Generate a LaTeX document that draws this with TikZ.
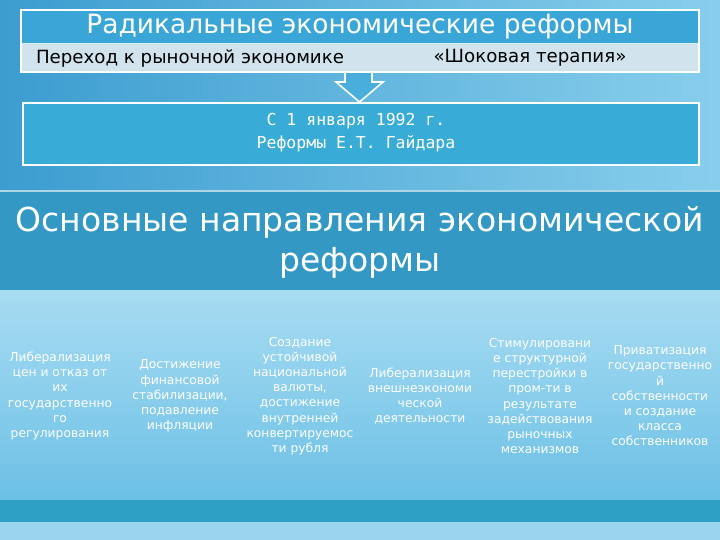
\documentclass[tikz,border=0pt]{standalone}
\usepackage{fontspec}
\setmainfont{DejaVu Sans}
\newfontfamily\monofnt{DejaVu Sans Mono}
\usetikzlibrary{calc}
\definecolor{bgL}{HTML}{3C9DD0}
\definecolor{bgR}{HTML}{88CEEC}
\definecolor{bandc}{HTML}{3399C4}
\definecolor{lowTop}{HTML}{A8DCF2}
\definecolor{lowBot}{HTML}{6CC0E6}
\definecolor{bandtwo}{HTML}{2E9FC5}
\definecolor{stripc}{HTML}{9AD4EF}
\definecolor{titlefill}{HTML}{3AA6D7}
\definecolor{rowfill}{HTML}{D1E3EC}
\definecolor{boxfill}{HTML}{38ACD6}
\definecolor{arrowfill}{HTML}{4AAEDC}
\tikzset{
  frame/.style={draw=white, line width=2bp},
  coltext/.style={text=white, align=center, inner sep=0pt,
    font=\fontsize{12.3bp}{15.2bp}\selectfont},
}
\begin{document}
\begin{tikzpicture}[x=1bp,y=-1bp]
\useasboundingbox (0,0) rectangle (720,540);
% backgrounds
\shade[left color=bgL, right color=bgR] (0,0) rectangle (720,191);
\fill[bandc] (0,191) rectangle (720,290);
\draw[white!60!bandc, line width=1.2bp] (0,191) -- (720,191);
\shade[top color=lowTop, bottom color=lowBot] (0,290) rectangle (720,500);
\fill[bandtwo] (0,500) rectangle (720,522);
\fill[stripc] (0,522) rectangle (720,540);

% top box
\node[fill=titlefill, minimum width=678bp, minimum height=33bp, inner sep=0pt, anchor=north west] (title) at (21,10) {};
\node[fill=rowfill, minimum width=678bp, minimum height=29bp, inner sep=0pt, anchor=north west] (row) at (21,43) {};
\draw[frame] (title.north west) rectangle (row.south east);
\draw[white!80!titlefill, line width=1bp] (title.south west) -- (title.south east);
\node[text=white, font=\fontsize{26.5bp}{30bp}\selectfont] (titletext) at (360,27) {Радикальные экономические реформы};
\node[text=black, font=\fontsize{18.2bp}{21bp}\selectfont] (rowa) at (190,58) {Переход к рыночной экономике};
\node[text=black, font=\fontsize{18.2bp}{21bp}\selectfont] (rowb) at (530,58) {«Шоковая терапия»};

% second box
\node[fill=boxfill, frame, minimum width=676bp, minimum height=62bp, inner sep=0pt, anchor=north west] (gaidar) at (22,102) {};
\node[text=white, align=center, font=\monofnt\fontsize{16.5bp}{23bp}\selectfont] (gaidartext) at (356,133) {С 1 января 1992 г.\\Реформы Е.Т. Гайдара};

% block arrow from top box to second box
\coordinate (arrtop) at (358.5,72);
\draw[fill=arrowfill, draw=white, line width=1.6bp, line join=miter]
  ($(arrtop)+(-13.5,0)$) -- ($(arrtop)+(13.5,0)$) -- ($(arrtop)+(13.5,10)$) -- ($(arrtop)+(24.5,10)$)
  -- ($(gaidar.north)+(-1.5,0)$) -- ($(arrtop)+(-22.5,10)$) -- ($(arrtop)+(-13.5,10)$) -- cycle;

% heading
\node[text=white, align=center, font=\fontsize{33bp}{40bp}\selectfont] (heading) at (360,242) {Основные направления экономической\\реформы};

% columns
\node[coltext] (c1) at (60,396) {Либерализация\\цен и отказ от\\их\\государственно\\го\\регулирования};
\node[coltext] (c2) at (180,396) {Достижение\\финансовой\\стабилизации,\\подавление\\инфляции};
\node[coltext] (c3) at (300,396) {Создание\\устойчивой\\национальной\\валюты,\\достижение\\внутренней\\конвертируемос\\ти рубля};
\node[coltext] (c4) at (420,396) {Либерализация\\внешнеэкономи\\ческой\\деятельности};
\node[coltext] (c5) at (540,396) {Стимулировани\\е структурной\\перестройки в\\пром-ти в\\результате\\задействования\\рыночных\\механизмов};
\node[coltext] (c6) at (660,396) {Приватизация\\государственно\\й\\собственности\\и создание\\класса\\собственников};
\end{tikzpicture}
\end{document}
